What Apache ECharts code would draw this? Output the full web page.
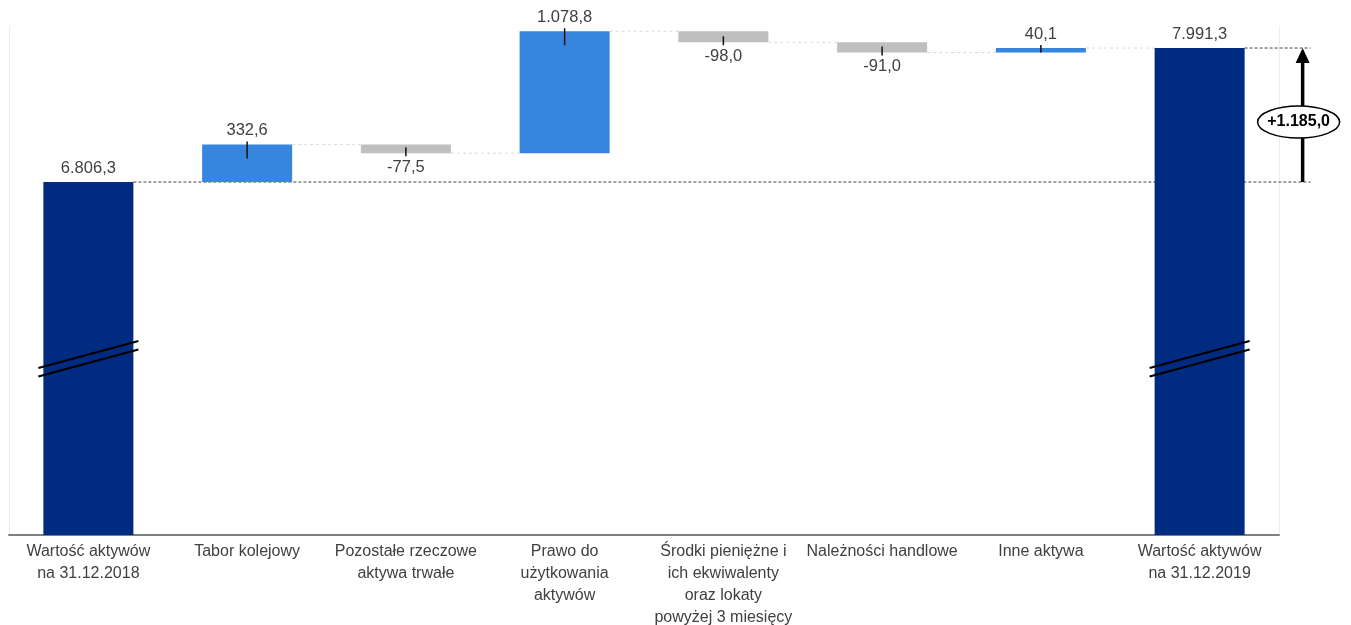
<!DOCTYPE html>
<html><head><meta charset="utf-8">
<script src="https://cdn.jsdelivr.net/npm/echarts@6/dist/echarts.min.js"></script>
<style>html,body{margin:0;padding:0;background:#fff}#c{width:1351px;height:625px}</style>
</head><body><div id="c"></div>
<script>
const categories = ['Wartość aktywów\nna 31.12.2018','Tabor kolejowy','Pozostałe rzeczowe\naktywa trwałe','Prawo do\nużytkowania\naktywów','Środki pieniężne i\nich ekwiwalenty\noraz lokaty\npowyżej 3 miesięcy','Należności handlowe','Inne aktywa','Wartość aktywów\nna 31.12.2019'];
const startValue = 6806.3;
const changes = [332.6, -77.5, 1078.8, -98.0, -91.0, 40.1];
const endValue = 7991.3;
const totalChangeLabel = '+1.185,0';
const axisMin = 3685, axisMax = 8186;

const NAVY = '#002B80', BLUE = '#3786DE', GREY = '#BFBFBF';
const FONT = 'Liberation Sans, Arial, sans-serif';

function fmt(v){
  const s = Math.abs(v).toFixed(1);
  const parts = s.split('.');
  return (v < 0 ? '-' : '') + parts[0].replace(/\B(?=(\d{3})+(?!\d))/g, '.') + ',' + parts[1];
}

// build waterfall
const baseData = [0];
const visData = [{value: startValue, itemStyle:{color: NAVY}, label:{position:'top'}, signed: startValue}];
const levels = [startValue];
const tickData = [];
let cum = startValue;
changes.forEach((c, k) => {
  const i = k + 1;
  const lo = Math.min(cum, cum + c), hi = Math.max(cum, cum + c);
  baseData.push(lo);
  visData.push({value: hi - lo, itemStyle:{color: c >= 0 ? BLUE : GREY}, label:{position: c >= 0 ? 'top' : 'bottom'}, signed: c});
  tickData.push([i, lo, hi, c >= 0 ? 1 : -1]);
  cum += c;
  levels.push(cum);
});
baseData.push(0);
visData.push({value: endValue, itemStyle:{color: NAVY}, label:{position:'top'}, signed: endValue});

const chart = echarts.init(document.getElementById('c'));
const option = {
  animation: false,
  grid: {left: 9, right: 72, top: 26, bottom: 90, containLabel: false, outerBoundsMode: 'none'},
  xAxis: {
    type: 'category', data: categories,
    axisLine: {lineStyle: {color: '#7f7f7f', width: 2}},
    axisTick: {show: false},
    axisLabel: {interval: 0, fontSize: 16, lineHeight: 22, color: '#404040', margin: 6, fontFamily: FONT}
  },
  yAxis: [
    {type: 'value', min: axisMin, max: axisMax, position: 'left',
     axisLine: {show: true, lineStyle: {color: '#ececec', width: 1}},
     axisLabel: {show: false}, axisTick: {show: false}, splitLine: {show: false}},
    {type: 'value', min: axisMin, max: axisMax, position: 'right',
     axisLine: {show: true, lineStyle: {color: '#ececec', width: 1}},
     axisLabel: {show: false}, axisTick: {show: false}, splitLine: {show: false}}
  ],
  series: [
    {type: 'bar', stack: 'w', data: baseData, barWidth: 90, itemStyle: {color: 'rgba(0,0,0,0)'}, silent: true, z: 2},
    {type: 'bar', stack: 'w', data: visData, barWidth: 90, z: 3,
     label: {show: true, fontSize: 16.5, lineHeight: 18, color: '#404040', distance: 5, fontFamily: FONT,
       formatter: p => fmt(visData[p.dataIndex].signed)}},
    {type: 'custom', z: 10, silent: true, data: tickData, encode: {x: 0, y: [1, 2]},
     renderItem: (params, api) => {
       const i = api.value(0), lo = api.value(1), hi = api.value(2), dir = api.value(3);
       const pTop = api.coord([i, hi]), pBot = api.coord([i, lo]);
       const x = pTop[0], top = pTop[1], bot = pBot[1];
       let y1, y2;
       if (dir > 0) { y1 = top - 3; y2 = Math.min(top + 14, bot); }
       else { y1 = Math.max(bot - 6, top); y2 = bot + 3; }
       return {type: 'line', shape: {x1: x, y1: y1, x2: x, y2: y2}, style: {stroke: '#111', lineWidth: 1.5}};
     }}
  ]
};
chart.setOption(option);

const px = (i, v) => chart.convertToPixel({xAxisIndex: 0, yAxisIndex: 0}, [i, v]);
const half = 45;
const last = categories.length - 1;
const yStart = px(0, startValue)[1], yEnd = px(last, endValue)[1];
const yBottom = px(0, axisMin)[1];
const arrowX = px(last, endValue)[0] + 103;
const g = [];
// faint connectors
for (let i = 1; i < levels.length; i++) {
  const y = px(i, levels[i])[1];
  g.push({type: 'line', z: 1, shape: {x1: px(i, 0)[0] + half, y1: y, x2: px(i + 1, 0)[0] - half, y2: y},
    style: {stroke: '#d9d9d9', lineWidth: 1, lineDash: [3, 3]}});
}
// dark dashed reference lines
g.push({type: 'line', z: 1, shape: {x1: px(0, 0)[0] + half, y1: yStart, x2: arrowX + 8, y2: yStart},
  style: {stroke: '#444', lineWidth: 1, lineDash: [3, 2]}});
g.push({type: 'line', z: 1, shape: {x1: px(last, 0)[0] + half, y1: yEnd, x2: arrowX + 8, y2: yEnd},
  style: {stroke: '#444', lineWidth: 1, lineDash: [3, 2]}});
// arrow
g.push({type: 'line', z: 100, shape: {x1: arrowX, y1: yStart, x2: arrowX, y2: yEnd + 12}, style: {stroke: '#000', lineWidth: 3.5}});
g.push({type: 'polygon', z: 100, shape: {points: [[arrowX, yEnd], [arrowX - 7, yEnd + 15], [arrowX + 7, yEnd + 15]]}, style: {fill: '#000'}});
const ecy = (yStart + yEnd) / 2 + 7;
g.push({type: 'ellipse', z: 101, shape: {cx: arrowX - 4, cy: ecy, rx: 41, ry: 16}, style: {fill: '#fff', stroke: '#000', lineWidth: 1.5}});
g.push({type: 'text', z: 102, style: {text: totalChangeLabel, x: arrowX - 4, y: ecy, align: 'center', verticalAlign: 'middle', font: 'bold 16px Liberation Sans, Arial, sans-serif', fill: '#000'}});
// axis break marks
const midY = (yStart + yBottom) / 2;
[0, last].forEach(i => {
  const cx = px(i, 0)[0];
  [-4, 4.5].forEach(off => {
    g.push({type: 'line', z: 100, shape: {x1: cx - 50, y1: midY + off + 13.5, x2: cx + 50, y2: midY + off - 13.5}, style: {stroke: '#000', lineWidth: 2}});
  });
});
chart.setOption({graphic: g});
</script>
</body></html>
